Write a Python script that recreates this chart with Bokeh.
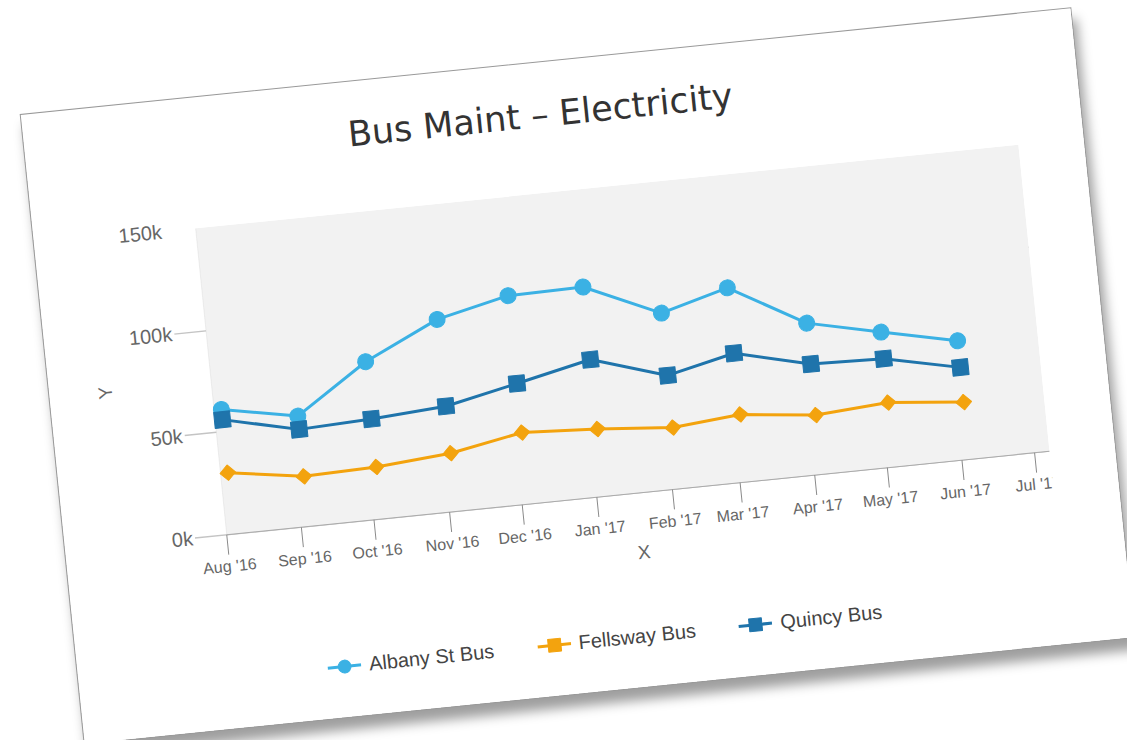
import math
import pandas as pd
from bokeh.plotting import figure
from bokeh.models import (Range1d, Legend, LegendItem, MonthsTicker, DatetimeTickFormatter,
                          FixedTicker, CustomJSTickFormatter, Title, BoxAnnotation)
from bokeh.embed import file_html
from bokeh.resources import INLINE

# ---------------- data ----------------
dates = ["2016-08-04", "2016-09-04", "2016-10-04", "2016-11-04", "2016-12-04", "2017-01-04",
         "2017-02-04", "2017-03-04", "2017-04-04", "2017-05-04", "2017-06-04"]
albany_st_bus = [61000, 54000, 77000, 94000, 102000, 102500, 86000, 95000, 74000, 66000, 58000]
fellsway_bus = [30000, 24500, 25500, 28500, 35000, 33000, 30000, 33000, 29000, 31500, 28000]
quincy_bus = [56000, 47500, 49000, 51500, 59000, 67000, 55500, 63000, 54000, 53000, 45000]
series_names = ["Albany St Bus", "Fellsway Bus", "Quincy Bus"]
x_start, x_end = "2016-08-01", "2017-07-07"
y_min, y_max = 0, 150000
y_ticks = [0, 50000, 100000, 150000]
title_text = "Bus Maint \u2013 Electricity"

# ---------------- layout (card seen tilted like the photographed slide) ----------------
W, H = 1055, 632                      # card size
ANGLE = 5.8
c, s = math.cos(math.radians(ANGLE)), math.sin(math.radians(ANGLE))
# bokeh sizes the canvas from the rotated bounding box of the card
WC, HC = round(W * c + H * s), round(W * s + H * c)
PL, PR, PT, PB = 162, 989, 130, 438   # plot area (grey box) edges on the card
FL, FB = 130, 604                      # frame reaches a little left and down (labels, legend)
BL, BR, BT, BB = FL, WC - PR, PT, HC - FB

xs, xe = pd.Timestamp(x_start), pd.Timestamp(x_end)
xs_ms, xe_ms = xs.value / 1e6, xe.value / 1e6
# ranges stretched so that the grey box maps exactly onto x_start..x_end, 0..150k
x_lo = xs - (xe - xs) * ((PL - FL) / (PR - PL))
y_lo = y_min - (y_max - y_min) * (FB - PB) / (PB - PT)

x = pd.to_datetime(dates)

p = figure(width=W, height=H, x_axis_type="datetime",
           x_range=Range1d(x_lo, xe), y_range=Range1d(y_lo, y_max),
           output_backend="svg", toolbar_location=None,
           min_border_left=BL, min_border_right=BR, min_border_top=BT, min_border_bottom=BB,
           background_fill_color="white", border_fill_color="white", outline_line_color=None)

# grey plot area and its left edge
p.add_layout(BoxAnnotation(left=xs_ms, bottom=y_min, top=y_max, fill_color="#f2f2f2",
                           fill_alpha=1.0, line_color=None, level="underlay"))
p.add_layout(BoxAnnotation(left=xs_ms, right=xs_ms, bottom=y_min, top=y_max, fill_alpha=0,
                           line_color="#cccccc", line_width=1, level="underlay"))

# x axis, drawn on the zero line
xa = p.xaxis[0]
xa.fixed_location = y_min
xa.bounds = (xs_ms, xe_ms)
xa.ticker = MonthsTicker(months=list(range(12)))
fmt = "%b '%y"
xa.formatter = DatetimeTickFormatter(months=fmt, days=fmt, years=fmt, hours=fmt)
xa.major_tick_out = 20
xa.major_tick_in = 0
xa.minor_tick_out = 0
xa.minor_tick_in = 0
xa.major_tick_line_color = "#8a8a8a"
xa.axis_line_color = "#aaaaaa"
xa.major_label_text_font = "Liberation Sans"
xa.major_label_text_font_size = "16px"
xa.major_label_text_color = "#666666"
xa.major_label_standoff = 3
xa.axis_label = "X"
xa.axis_label_text_font = "Liberation Sans"
xa.axis_label_text_font_size = "19px"
xa.axis_label_text_font_style = "normal"
xa.axis_label_text_color = "#666666"
xa.axis_label_standoff = 6

# y axis (the grid lines reaching out of the grey box act as its ticks)
ya = p.yaxis[0]
ya.bounds = (y_min, y_max)
ya.ticker = FixedTicker(ticks=y_ticks)
ya.formatter = CustomJSTickFormatter(code="return (tick/1000).toFixed(0) + 'k';")
ya.major_tick_out = 0
ya.major_tick_in = 0
ya.minor_tick_out = 0
ya.minor_tick_in = 0
ya.axis_line_color = None
ya.major_label_text_font = "Liberation Sans"
ya.major_label_text_font_size = "20px"
ya.major_label_text_color = "#666666"
ya.major_label_standoff = 2

# y axis title, centred on the grey box
p.add_layout(Title(text="Y", align="left", offset=FB - 291, standoff=32,
                   text_font="Liberation Sans", text_font_size="19px",
                   text_font_style="normal", text_color="#666666"), "left")

p.xgrid.grid_line_color = None
p.ygrid.ticker = FixedTicker(ticks=y_ticks)
p.ygrid.grid_line_color = "#c4c4c4"
p.ygrid.grid_line_width = 1.3

# title: an empty spacer next to the frame, then the real title above it
p.add_layout(Title(text=" ", text_font_size="2px", standoff=54), "above")
p.add_layout(Title(text=title_text, align="left", offset=323 - FL, standoff=0,
                   text_font="DejaVu Sans", text_font_size="35px", text_font_style="normal",
                   text_color="#333333"), "above")

# series
styles = [
    (albany_st_bus, "#3bb1e4", "circle", 16, 0.0),
    (fellsway_bus, "#f3a30e", "square", 11, 0.785398),
    (quincy_bus, "#1f74ab", "square", 16, 0.0),
]
items = []
for name, (vals, color, marker, size, ang) in zip(series_names, styles):
    rl = p.line(x, vals, line_width=3, line_color=color)
    rs = p.scatter(x, vals, marker=marker, size=size, angle=ang,
                   fill_color=color, line_color=color)
    items.append(LegendItem(label=name, renderers=[rl, rs]))

legend = Legend(items=items, orientation="horizontal", location=(249 - FL, 7),
                label_text_font="Liberation Sans", label_text_font_size="20px",
                label_text_color="#444444", glyph_width=34, glyph_height=32,
                label_standoff=8, spacing=43, padding=0, margin=0,
                background_fill_alpha=0, border_line_color=None)
p.add_layout(legend)

p.styles = {
    "transform": f"translate(50px, 60px) rotate(-{ANGLE}deg)",
    "box-shadow": "4px 12px 12px 1px rgba(0,0,0,0.38)",
    "outline": "1px solid #999999",
    "overflow": "hidden",
}

open("out.html", "w").write(file_html(p, INLINE))
